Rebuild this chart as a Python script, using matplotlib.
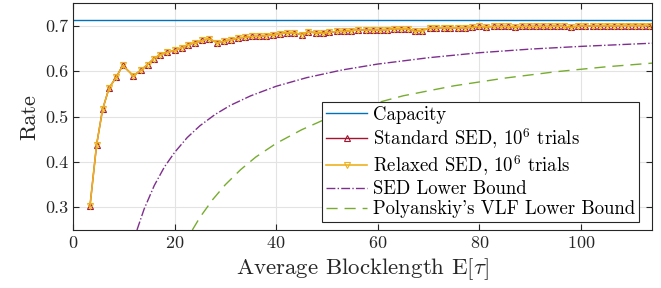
import numpy as np
import matplotlib
matplotlib.use('Agg')
import matplotlib.pyplot as plt

plt.rcParams['font.family'] = 'serif'
plt.rcParams['font.serif'] = ['cmr10']
plt.rcParams['mathtext.fontset'] = 'cm'
plt.rcParams['axes.formatter.use_mathtext'] = True

# --- data ---
capacity = 0.7136

sed_x = [3.34, 4.65, 5.83, 7.1, 8.5, 9.8, 11.9, 13.3, 14.7, 15.9, 17.2, 18.6, 20.1, 21.4,
         22.7, 24.1, 25.5, 26.8, 28.4, 29.8, 31.2, 32.5, 33.8, 35.3, 36.6, 38.1, 39.4, 40.7,
         42.1, 43.5, 45.0, 46.3, 47.8, 49.2, 50.5, 52.0, 53.4, 54.8, 56.2, 57.6, 59.1, 60.4,
         61.8, 63.2, 64.5, 65.9, 67.4, 68.8, 70.2, 71.5, 73.0, 74.3, 75.8, 77.2, 78.6, 80.0,
         81.4, 82.8, 84.2, 85.6, 87.0, 88.4, 89.8, 91.1, 92.5, 93.9, 95.3, 96.7, 98.1, 99.5,
         100.9, 102.3, 103.7, 105.1, 106.5, 107.9, 109.3, 110.7, 112.1, 113.5]
standard_sed = [0.302, 0.438, 0.516, 0.563, 0.587, 0.613, 0.590, 0.602, 0.615, 0.628, 0.637,
                0.642, 0.646, 0.652, 0.659, 0.663, 0.668, 0.672, 0.663, 0.666, 0.670, 0.673,
                0.675, 0.677, 0.677, 0.679, 0.680, 0.683, 0.685, 0.685, 0.681, 0.687, 0.685,
                0.684, 0.686, 0.688, 0.688, 0.690, 0.691, 0.691, 0.691, 0.691, 0.692, 0.694,
                0.694, 0.694, 0.688, 0.690, 0.696, 0.696, 0.696, 0.696, 0.696, 0.696, 0.697,
                0.699, 0.698, 0.699, 0.699, 0.699, 0.698, 0.699, 0.699, 0.699, 0.699, 0.699,
                0.700, 0.699, 0.697, 0.700, 0.700, 0.700, 0.700, 0.701, 0.700, 0.701, 0.701,
                0.701, 0.701, 0.701]
relaxed_sed = list(standard_sed)

sed_lb_x = [12.6, 14, 16, 18, 20, 22.5, 25, 28, 31, 35, 40, 46, 53, 60, 70, 80, 90, 100, 114]
sed_lb = [0.250, 0.296, 0.348, 0.389, 0.421, 0.454, 0.480, 0.505, 0.525, 0.546, 0.567,
          0.586, 0.603, 0.616, 0.630, 0.641, 0.649, 0.655, 0.662]

vlf_x = [23.5, 25, 27.5, 30, 33, 36, 40, 45, 50, 57, 65, 75, 85, 95, 105, 114]
vlf_lb = [0.250, 0.278, 0.317, 0.350, 0.383, 0.411, 0.441, 0.471, 0.496, 0.522, 0.546,
          0.568, 0.585, 0.599, 0.610, 0.618]

fig = plt.figure(figsize=(6.61, 2.88), dpi=100)
ax = fig.add_axes([0.1104, 0.2014, 0.8760, 0.7871])

ax.axhline(capacity, color='#0072BD', lw=1.0, label='Capacity')
ax.plot(sed_x, standard_sed, color='#A2142F', lw=1.0, marker='^', ms=4, mfc='none',
        mew=0.8, label=r'Standard SED, $10^6$ trials')
ax.plot(sed_x, relaxed_sed, color='#EDB120', lw=1.2, marker='v', ms=4, mfc='none',
        mew=0.8, label=r'Relaxed SED, $10^6$ trials')
ax.plot(sed_lb_x, sed_lb, color='#7E2F8E', lw=1.0, ls='-.', label='SED Lower Bound')
ax.plot(vlf_x, vlf_lb, color='#77AC30', lw=1.0, ls=(0, (8, 5)),
        label="Polyanskiy's VLF Lower Bound")

ax.set_xlim(0, 114)
ax.set_ylim(0.25, 0.75)
ax.set_xticks([0, 20, 40, 60, 80, 100])
ax.set_yticks([0.3, 0.4, 0.5, 0.6, 0.7])
ax.set_yticklabels(['0.3', '0.4', '0.5', '0.6', '0.7'])
ax.grid(True, color='#e3e3e3', lw=0.8)
ax.set_axisbelow(True)
ax.tick_params(direction='in', top=True, right=True, labelsize=13, colors='#262626',
               length=4, width=0.8)
for s in ax.spines.values():
    s.set_color('#262626')
    s.set_linewidth(0.8)

ax.set_xlabel(r'Average Blocklength E$[\tau]$', fontsize=16.5, color='#262626')
ax.set_ylabel('Rate', fontsize=16, color='#262626')

leg = ax.legend(loc='lower right', bbox_to_anchor=(0.9775, 0.035), fontsize=13.5,
                frameon=True, fancybox=False, edgecolor='#262626', framealpha=1,
                borderpad=0.2, labelspacing=0.12, handlelength=2.2, handletextpad=0.3,
                borderaxespad=0)
leg.get_frame().set_linewidth(0.8)

fig.savefig('out.png', dpi=100)
